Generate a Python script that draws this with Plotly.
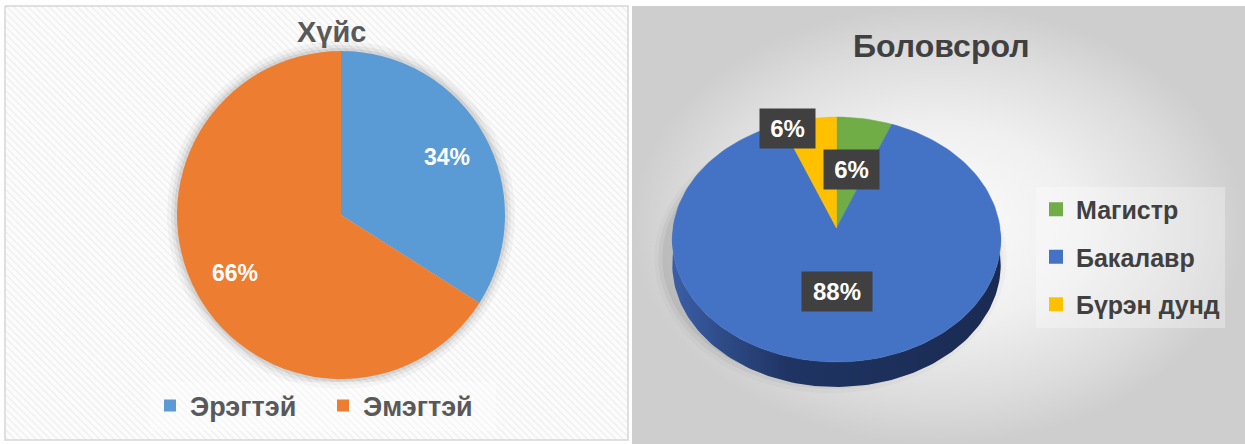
import numpy as np
import plotly.graph_objects as go

W, H = 1245, 444

# ---------------- data ----------------
title_left = "Хүйс"
gender_labels = ["Эрэгтэй", "Эмэгтэй"]
gender_values = [34, 66]
gender_colors = ["#5B9BD5", "#ED7D31"]

title_right = "Боловсрол"
edu_labels = ["Магистр", "Бакалавр", "Бүрэн дунд"]
edu_values = [6, 88, 6]
edu_colors = ["#70AD47", "#4472C4", "#FFC000"]

FONT = "Liberation Sans, Arial, sans-serif"

fig = go.Figure()

# ---------------- panel backgrounds ----------------
fig.add_trace(go.Scatter(
    x=[5, 628, 628, 5, 5], y=[6, 6, 440, 440, 6], mode="lines", fill="toself",
    fillpattern=dict(shape="\\", bgcolor="#fcfcfc", fgcolor="#e4e4e4", size=5, solidity=0.3),
    line=dict(color="#d6d6d6", width=1.5), hoverinfo="skip", showlegend=False))
fig.add_trace(go.Scatter(
    x=[632, 1245, 1245, 632, 632], y=[6, 6, 444, 444, 6], mode="lines", fill="toself",
    fillgradient=dict(type="radial", colorscale=[[0, "#fbfbfb"], [0.45, "#f0f0f0"],
                                                 [0.8, "#dcdcdc"], [1, "#cecece"]]),
    line=dict(width=0), hoverinfo="skip", showlegend=False))

# ---------------- left pie (2D) ----------------
lcx, lcy, lr = 341, 215, 164
ang = np.linspace(0, 2 * np.pi, 181)
for k, a in [(10, 0.035), (6, 0.05), (3, 0.07)]:
    fig.add_trace(go.Scatter(x=lcx + (lr + k) * np.sin(ang), y=lcy + (lr + k) * np.cos(ang),
                             mode="lines", fill="toself", fillcolor=f"rgba(0,0,0,{a})",
                             line=dict(width=0), hoverinfo="skip", showlegend=False))

fig.add_trace(go.Pie(
    labels=gender_labels, values=gender_values, sort=False, direction="clockwise", rotation=0,
    marker=dict(colors=gender_colors, line=dict(width=0)), textinfo="none", hoverinfo="skip",
    domain=dict(x=[(lcx - lr) / W, (lcx + lr) / W], y=[1 - (lcy + lr) / H, 1 - (lcy - lr) / H]),
    legend="legend"))

tot = sum(gender_values)
cum = 0
for v in gender_values:
    mid = np.radians((cum + v / 2) / tot * 360)
    cum += v
    fig.add_annotation(x=lcx + 0.74 * lr * np.sin(mid), y=lcy - 0.74 * lr * np.cos(mid),
                       text=f"{round(v / tot * 100)}%", showarrow=False,
                       font=dict(family=FONT, size=23, color="white", weight="bold"))

# ---------------- right pie (3D-like) ----------------
cx, cy, R, Ry, p, depth = 836.5, 228, 163.5, 121.4, 0.094, 25


def proj(theta_deg, rho=1.0, lift=0.0):
    t = np.radians(theta_deg)
    u = rho * np.sin(t)
    d = -rho * np.cos(t)
    s = 1.0 / (1.0 - p * d)
    return cx + R * u * s, cy + Ry * d * s + lift


# soft shadow
for k, a in [(12, 0.025), (8, 0.04), (4, 0.055)]:
    th = np.linspace(0, 360, 181)
    xs, ys = proj(th)
    fig.add_trace(go.Scatter(x=cx - 6 + (xs - cx) * (1 + k / R), y=cy + 18 + (ys - cy) * (1 + k / Ry),
                             mode="lines", fill="toself", fillcolor=f"rgba(0,0,0,{a})",
                             line=dict(width=0), hoverinfo="skip", showlegend=False))

# side wall
th1 = np.linspace(88, 272, 120)
x1, y1 = proj(th1)
x2, y2 = proj(th1[::-1], lift=depth)
fig.add_trace(go.Scatter(
    x=np.concatenate([x1, x2, x1[:1]]), y=np.concatenate([y1, y2, y1[:1]]), mode="lines",
    fill="toself",
    fillgradient=dict(type="horizontal", colorscale=[[0, "#3a5ea6"], [0.35, "#1f3463"], [1, "#1a2b52"]]),
    line=dict(width=0), hoverinfo="skip", showlegend=False))

etot = sum(edu_values)
cum = 0
mids = []
for v, c in zip(edu_values, edu_colors):
    a0 = cum / etot * 360
    a1 = (cum + v) / etot * 360
    cum += v
    mids.append((a0 + a1) / 2)
    th = np.linspace(a0, a1, max(int((a1 - a0) / 2), 4))
    xs, ys = proj(th)
    fig.add_trace(go.Scatter(x=np.concatenate([[cx], xs, [cx]]), y=np.concatenate([[cy], ys, [cy]]),
                             mode="lines", fill="toself", fillcolor=c, line=dict(width=0.5, color=c),
                             hoverinfo="skip", showlegend=False))

# legend entries for right chart
for i, (lab, c) in enumerate(zip(edu_labels, edu_colors)):
    fig.add_trace(go.Scatter(x=[None], y=[None], mode="markers", name=lab,
                             marker=dict(symbol="square", size=14, color=c),
                             legend="legend2", legendgroup=f"g{i}", hoverinfo="skip"))

# labels on right chart
rhos = [0.51, 0.5, 0.9]
shifts = [0, 0, -24]
for v, m, rho, sh in zip(edu_values, mids, rhos, shifts):
    lx, ly = proj(m, rho)
    txt = f"{round(v / etot * 100)}%"
    fig.add_annotation(x=lx, y=ly, xshift=sh, text=txt, showarrow=False,
                       width=47 if len(txt) < 3 else 62, height=31, borderpad=4,
                       bgcolor="#404040",
                       font=dict(family=FONT, size=24, color="white", weight="bold"))

# titles
fig.add_annotation(x=331.5, y=32, text=title_left, showarrow=False,
                   font=dict(family=FONT, size=29, color="#595959", weight="bold"))
fig.add_annotation(x=941.5, y=46, text=title_right, showarrow=False,
                   font=dict(family=FONT, size=32, color="#404040", weight="bold"))

fig.update_layout(
    width=W, height=H, margin=dict(l=0, r=0, t=0, b=0),
    paper_bgcolor="white", plot_bgcolor="white",
    xaxis=dict(range=[0, W], visible=False, fixedrange=True),
    yaxis=dict(range=[H, 0], visible=False, fixedrange=True),
    legend=dict(orientation="h", x=150 / W, y=1 - 406 / H, xanchor="left", yanchor="middle",
                entrywidth=128, entrywidthmode="pixels", bgcolor="rgba(255,255,255,0.35)",
                font=dict(family=FONT, size=27, color="#595959", weight="bold")),
    legend2=dict(orientation="v", x=1036 / W, y=1 - 257 / H, xanchor="left", yanchor="middle",
                 tracegroupgap=12, bgcolor="rgba(255,255,255,0.3)",
                 font=dict(family=FONT, size=25, color="#404040", weight="bold")),
)

fig.write_html("out.html", include_plotlyjs=True, config={"displayModeBar": False},
               post_script="document.body.style.margin='0';document.body.style.overflow='hidden';")
